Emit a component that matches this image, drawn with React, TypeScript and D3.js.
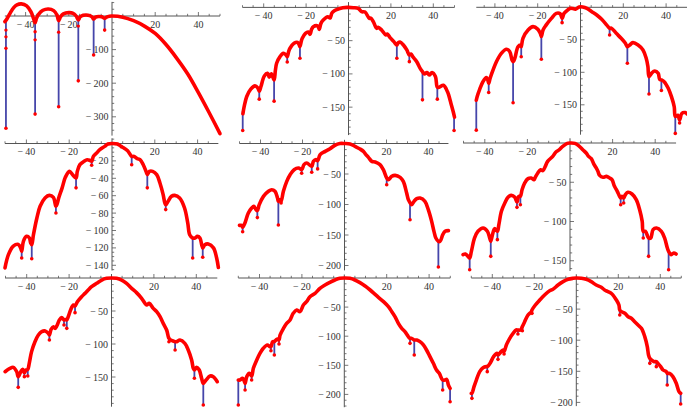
import React from "react";
import * as d3 from "d3";

type Pt = [number, number];
type Stem = [number, number, number];

const xTickValues = [-40, -20, 20, 40];
const yTicks1 = [-100, -200, -300];
const yTicks2 = [-50, -100, -150];
const yTicks3 = [-50, -100, -150];
const yTicks4 = [-20, -40, -60, -80, -100, -120, -140];
const yTicks5 = [-50, -100, -150, -200];
const yTicks6 = [-50, -100, -150];
const yTicks7 = [-50, -100, -150];
const yTicks8 = [-50, -100, -150, -200];
const yTicks9 = [-50, -100, -150, -200];

const curve1: Pt[] = [[-49.6,-17],[-48.6,-8],[-47.2,8],[-45.5,25],[-44,33],[-42,36],[-39.5,30],[-37.5,12],[-36.3,-8],[-35.6,-20],[-35,-8],[-34,5],[-32,17],[-29.5,21],[-27,16],[-25.5,3],[-24.7,-14],[-23.8,-2],[-22.5,6.5],[-20,10],[-18,8],[-16.6,0],[-15.6,-12],[-14.8,-3],[-13.3,2],[-12,3],[-10.3,1],[-9.2,-3],[-8.5,-9],[-7.6,-3.5],[-6.2,-1.5],[-4.7,-2.5],[-3.4,-7],[-2.5,-3],[-1.2,-0.5],[0,0],[5,-3.5],[10,-14],[15,-30],[20,-52],[25,-85],[30,-126],[35,-172],[40,-228],[45,-288],[50,-350]];
const stems1: Stem[] = [[-49.1,-15,-334],[-35.6,-20,-292],[-24.7,-14,-270],[-15.6,-12,-193],[-8.5,-9,-116],[-3.4,-7,-42]];
const dots1: Pt[] = [[-49.1,-42],[-49.1,-62],[-49.1,-96],[-35.6,-47],[-35.6,-71],[-24.7,-48],[-15.6,-30]];

const curve2: Pt[] = [[-49.8,-160],[-49.2,-149],[-48,-134],[-46.1,-123],[-44.1,-118],[-42.8,-121],[-42.1,-126],[-41.3,-119],[-39.7,-103],[-38.2,-99],[-37.4,-105],[-36.4,-100],[-35.1,-109],[-34.5,-95],[-33.9,-84],[-32.3,-74],[-30.7,-69],[-29.6,-71],[-28.9,-74],[-28.2,-66],[-27.6,-61.5],[-25.7,-54],[-24,-52.6],[-23.3,-56],[-22.9,-59],[-22.2,-50],[-21.8,-46.5],[-20.3,-39],[-19,-37],[-18.2,-40.5],[-17.4,-33],[-16.6,-29],[-14.5,-28],[-13.8,-33],[-13,-24],[-11.9,-19],[-9.8,-14],[-8.7,-16],[-7.9,-9],[-7.2,-6.4],[-5.6,-3.4],[-2.7,-0.4],[0,0],[2.3,-0.5],[4.6,-1.5],[6.2,-6.4],[7.8,-7],[9.8,-16.4],[10.5,-16],[11.7,-21.5],[13.3,-31.5],[14,-30],[15.6,-34],[17.6,-41.5],[18.3,-40],[19.5,-45],[21.4,-51.5],[22.8,-56.5],[23.5,-53],[24.3,-52],[25.9,-56.5],[27.5,-64],[28.7,-71.6],[29.5,-70],[30.3,-74],[32.2,-81.6],[33.8,-91.6],[34.9,-96.7],[35.8,-100],[37,-98],[38.1,-101.7],[39.4,-98],[41,-104],[41.9,-120],[42.8,-120],[44.8,-117],[46.7,-127],[48.3,-144],[49.4,-157],[50,-165]];
const stems2: Stem[] = [[-49.9,-156,-185],[-42.1,-125,-138],[-35.1,-109,-141],[-28.9,-73,-82],[-22.9,-59,-76.5],[22.8,-56.5,-76.5],[28.7,-71.6,-81.6],[34.9,-96.7,-139],[41.9,-120,-138],[49.8,-160,-185]];

const curve3: Pt[] = [[-48.7,-143],[-48.3,-137.5],[-47.2,-127],[-45.6,-114.5],[-44,-108],[-43.3,-112],[-42.9,-117],[-42.3,-110],[-41.7,-104],[-39.3,-83.7],[-37,-70.8],[-34.6,-64.6],[-33.1,-68],[-32,-81],[-31.5,-83.7],[-30.7,-78.5],[-29.2,-60.6],[-28,-58],[-27.7,-60.6],[-26.9,-47.7],[-24.5,-35],[-22.2,-29.8],[-19.9,-34],[-18.8,-40],[-18.3,-45],[-17.5,-34.8],[-16,-27],[-13.6,-17],[-11.3,-9.3],[-9.5,-10],[-8.6,-17],[-7.8,-10],[-7,-7],[-4.7,-1.6],[-3.5,-2],[-2.4,-3],[-0.6,0.5],[1,0.5],[3,-1.6],[5.3,-6.7],[7.6,-11.8],[9.9,-18.5],[12.2,-27],[13.6,-32.3],[14.4,-32],[16.7,-40],[19,-47.7],[20.9,-55],[21.9,-60.6],[23,-58],[24.5,-54.4],[26.9,-58],[29.2,-65.7],[30.7,-78.5],[31.5,-91],[32,-106.7],[33.2,-101.6],[34.7,-98],[36.3,-101.6],[37,-110.8],[37.8,-111.8],[39.1,-114.4],[41,-124.6],[42.5,-137.5],[43.8,-153],[44.3,-168],[45.5,-166],[46.3,-173],[47.4,-163],[48.9,-162],[49.8,-164]];
const stems3: Stem[] = [[-48.7,-143,-189],[-42.9,-117,-131],[-31.5,-83.7,-146.8],[-27.7,-60.6,-76],[-18.3,-45,-80],[-8.6,-17,-23.6],[13.6,-32.3,-42.6],[21.9,-60.6,-86],[32,-106.7,-133.4],[37.8,-111.8,-128],[44.3,-168,-194],[46.3,-173,-178]];

const curve4: Pt[] = [[-50,-143],[-48.4,-127.8],[-46.1,-118],[-43.8,-116],[-42.7,-120],[-42.2,-124],[-41.4,-112.4],[-39.9,-106.7],[-38.6,-108.6],[-38,-114.4],[-37.5,-116.3],[-36.7,-104.8],[-35.1,-85.6],[-33.6,-72.2],[-31.3,-62.6],[-29.3,-59.6],[-27.4,-61.9],[-26.2,-72.2],[-25.6,-69],[-24.9,-62.6],[-23.3,-51],[-21.8,-38.9],[-19.9,-32],[-18.4,-35.8],[-16.8,-39.7],[-16.2,-32],[-15,-24.3],[-13.1,-20.5],[-11.6,-18.6],[-10.3,-19.5],[-9.5,-20.5],[-8.7,-14.8],[-7.2,-11],[-5.7,-7.1],[-3.4,-3.3],[-1.9,-0.6],[0,0],[2.6,-0.6],[4.2,-3.3],[5.7,-5.5],[7.3,-8.3],[9.2,-14.8],[10.3,-14.8],[11.8,-17.5],[13.1,-18.6],[14.6,-24.4],[15.9,-32],[16.5,-35.8],[17.5,-32],[19,-32],[20.9,-35.8],[22.4,-45.4],[23.9,-58.8],[24.7,-68.4],[25.1,-70.3],[25.6,-69],[26.2,-66.5],[27.8,-60.7],[29.3,-59.6],[31.6,-62.6],[33.9,-74.1],[35.4,-91.4],[36.3,-104.8],[37.7,-108.6],[38.8,-108.6],[39.9,-106.7],[41.1,-108.6],[41.9,-116.3],[42.4,-120],[43.4,-116.3],[45,-115.5],[47.4,-120],[48.9,-131.6],[49.7,-142.5]];
const stems4: Stem[] = [[-42.2,-124,-131.6],[-37.5,-116.3,-132.4],[-26.2,-72.2,-79.9],[-16.8,-39.7,-51],[-9.5,-20.5,-25],[9.2,-14.8,-24.4],[16.5,-35.8,-51],[25.1,-70.3,-76],[37.7,-108.6,-131.6],[42.4,-120,-130.8]];

const curve5: Pt[] = [[-50,-134.2],[-48.9,-134.2],[-48.5,-137.4],[-47.4,-130.3],[-45.8,-114],[-44.2,-105.8],[-43.2,-103],[-42.1,-108.5],[-41.5,-110],[-40.6,-100.3],[-38.6,-86.6],[-36.2,-78.4],[-34.7,-75.7],[-33.1,-78.4],[-31.9,-89.4],[-31.5,-94.8],[-30.7,-92.1],[-30.2,-95],[-29.1,-78.4],[-27.5,-62],[-25.9,-51.1],[-24,-42.9],[-21.9,-40.2],[-20.4,-42.9],[-19.3,-34.7],[-18,-32],[-15.6,-37.4],[-14.8,-29.3],[-13.6,-26.5],[-12.8,-28.2],[-11.6,-18.3],[-9.2,-12.9],[-6.9,-8.5],[-4.6,-3],[-2.2,0],[0,0],[2.7,-0.8],[5,-4.7],[7.4,-9],[9,-12.9],[10.2,-18.3],[11.4,-22.7],[13,-29.3],[14.6,-30.3],[16.9,-34.7],[18.5,-42.9],[20.1,-56.6],[20.9,-59.3],[22.5,-53.8],[24.1,-52.2],[26.5,-55.5],[28,-62],[29.6,-81.2],[30.4,-92.1],[31.2,-97],[32,-100.3],[33.1,-94.8],[34.4,-90.5],[36,-89.4],[38.3,-94.8],[39.9,-108.5],[41.5,-127.6],[42.6,-144],[43.5,-155],[44.7,-160.4],[45.5,-160.4],[46.8,-149.5],[47.9,-144],[49.5,-142.9]];
const stems5: Stem[] = [[-48.5,-137.4,-144.6],[-41.5,-110,-121.5],[-31.5,-94.8,-133.6],[-30.2,-95,-97.6],[-20.4,-42.9,-48.8],[-15.6,-37.4,-47.1],[-12.8,-28.2,-41.6],[20.1,-56.6,-67.5],[31.2,-97,-124.9],[44.7,-160.4,-202.5]];

const curve6: Pt[] = [[-50.2,-142.2],[-49.1,-141.4],[-47.9,-144.4],[-47.1,-146.5],[-46.3,-138],[-44.8,-121],[-43.2,-112.5],[-40.8,-108.3],[-38.8,-112.5],[-37.7,-121],[-37.2,-125.3],[-36.4,-116.8],[-35.4,-109.1],[-34.1,-112.5],[-33.4,-104],[-32.2,-87],[-30.6,-76.4],[-29.1,-69.2],[-27.5,-66.7],[-25.9,-69.2],[-24.9,-75.2],[-24.1,-68],[-23.3,-68],[-22.5,-59.5],[-21.3,-51],[-19.7,-45.4],[-18.2,-44.6],[-16.9,-46.7],[-16.3,-43.7],[-15.1,-38.2],[-13.8,-34],[-12.7,-35.2],[-11.6,-29.7],[-10.5,-23.4],[-8.1,-17],[-6.6,-11.5],[-5,-8.5],[-3.4,-4.2],[-1.3,-0.5],[0,0],[2.3,-0.5],[4.4,-4.2],[6,-8.5],[7.6,-12.7],[8.7,-17],[10,-20],[11.2,-26.8],[12.3,-31.8],[13.1,-36.1],[13.9,-41.2],[15.5,-43.7],[17.1,-42.5],[18.6,-44.6],[19.7,-46.7],[20.9,-55.2],[22.2,-61.6],[23.3,-68],[23.8,-70],[24.4,-68],[25.2,-70],[26,-65.8],[27.2,-62.8],[29.1,-65],[31.1,-72.2],[32.7,-85],[33.9,-99.8],[34.4,-112.5],[35.4,-112.5],[36.9,-121],[37.9,-121],[39,-110.4],[40.6,-108.3],[42.9,-112.5],[44.4,-121],[45.7,-133.8],[46.3,-138],[47.5,-142.2],[48.7,-140.1],[49.8,-141.4]];
const stems6: Stem[] = [[-47.1,-146.5,-161.4],[-37.2,-125.3,-144.4],[-34.1,-112.5,-123.1],[-24.9,-75.2,-82],[-23.3,-68,-78.6],[23.8,-70,-78.6],[25.2,-70,-76.4],[34.4,-112.5,-121],[36.9,-121,-144.4],[46.3,-138,-161.4]];

const curve7: Pt[] = [[-50.2,-142],[-47.9,-136.9],[-46.3,-135.4],[-44.7,-142],[-44,-149.5],[-42.8,-142],[-41.9,-138.4],[-41.1,-143.5],[-40.3,-139.4],[-39.5,-138.4],[-38.8,-129.3],[-37.7,-111.6],[-36.1,-96.5],[-34.5,-86.4],[-32.9,-81.3],[-31.3,-80.3],[-29.8,-83.9],[-29.3,-86.4],[-28.5,-77.8],[-27.4,-73.8],[-26.6,-76.3],[-25.8,-72.7],[-24.6,-63.7],[-23.5,-60.1],[-22.7,-62.6],[-22.4,-63.7],[-21.4,-62.6],[-21.1,-63.7],[-20.4,-58.6],[-19.3,-48.5],[-18,-40.9],[-17.2,-42.4],[-16.1,-35.9],[-14.1,-28.3],[-12.5,-23.3],[-11,-18.2],[-9.4,-13.2],[-7,-8.1],[-4.6,-3.1],[-2.3,-0.5],[0,0],[2.4,-0.5],[4.8,-3.1],[7.1,-8.1],[9.5,-15.7],[11.8,-22.2],[14.2,-30.8],[15.8,-38.4],[16.6,-40.9],[17.8,-38.4],[19.7,-46],[21.3,-51],[22.9,-58.6],[24.4,-68.7],[26,-78.8],[26.8,-88.9],[27.1,-91.4],[27.9,-94],[28.8,-95],[30,-96.5],[30.7,-96.5],[32.3,-94],[34.6,-99],[36.2,-109.1],[37.8,-124.3],[38.6,-136.9],[39.1,-139.4],[40.2,-135.4],[41.4,-139.4],[42.5,-152],[43.3,-159.6],[44.6,-154.6],[46.5,-148.5],[48,-149.5],[49.9,-157.1]];
const stems7: Stem[] = [[-44,-149.5,-165.7],[-41.1,-143.5,-149.5],[-39.5,-138.4,-148.5],[-29.3,-86.4,-94],[-22.4,-63.7,-71.2],[-21.1,-63.7,-76.3],[-17.2,-42.4,-52.5],[27.1,-91.4,-96.5],[30,-96.5,-109.1],[39.1,-139.4,-152],[43.3,-159.6,-192.4]];

const curve8: Pt[] = [[-50,-175.3],[-49.2,-175.3],[-48,-172.4],[-47.1,-178.1],[-46.8,-181],[-46,-169.5],[-44.8,-163.8],[-43.7,-168.4],[-42.9,-155.2],[-41.3,-140.9],[-39.8,-129.4],[-38.2,-120.8],[-36.3,-115.1],[-35.1,-118],[-34.6,-118],[-33.8,-109.4],[-33,-109.4],[-32.2,-106.5],[-31.5,-105],[-30.8,-106.5],[-30.3,-98],[-28.7,-86.5],[-27.2,-77.9],[-25.6,-72.2],[-24.1,-60.7],[-22.5,-55],[-20.9,-57.8],[-19.3,-46.4],[-17.8,-40.7],[-16.2,-32.1],[-13.8,-26.3],[-11.5,-17.7],[-9.1,-12],[-6.8,-7.4],[-4.4,-3.4],[-2.1,-0.6],[0,0],[2.7,-0.6],[5,-3.4],[7.4,-8],[9.8,-13.7],[12.2,-20.6],[14,-26.3],[16.1,-33.2],[18.5,-40.7],[20.8,-49.3],[22.4,-57.8],[23.9,-66.4],[25.5,-77.9],[27.1,-86.5],[28.6,-92.2],[30.2,-100.8],[31,-103.7],[31.8,-103.7],[33,-106.5],[34.2,-106.5],[35.7,-109.4],[37.3,-115.1],[38.8,-123.7],[40.4,-135.2],[42,-146.6],[43.5,-158.1],[44.8,-163.8],[46.4,-175.3],[47.5,-175.3],[48.3,-174.1],[49.1,-183.8],[49.9,-189.6]];
const stems8: Stem[] = [[-50,-175.3,-218.2],[-46.8,-181,-192.4],[-43.7,-168.4,-175.3],[-34.6,-118,-124.9],[-33,-109.4,-132.3],[-30.8,-106.5,-113.4],[31,-103.7,-112.3],[33,-106.5,-132.3],[46.4,-175.3,-192.4],[49.9,-189.6,-212.5]];

const curve9: Pt[] = [[-50,-185.4],[-49.7,-185.4],[-48.7,-174.7],[-47.6,-164],[-46,-150.6],[-44.4,-144.2],[-42.8,-142.5],[-42.4,-142.5],[-40.9,-136.1],[-39.4,-126.5],[-37.8,-121.1],[-37.3,-123.8],[-35.8,-118.4],[-34.9,-115.8],[-34.4,-118.4],[-33.3,-107.7],[-31.7,-97],[-30.1,-89],[-28.6,-83.6],[-27.8,-83.6],[-26.5,-83.6],[-25.7,-78.2],[-24.6,-70.2],[-23,-59.5],[-21.4,-54.1],[-21.1,-51.4],[-19.5,-43.4],[-17.4,-35.4],[-15.1,-27.3],[-12.7,-20.4],[-11.1,-18.2],[-8.7,-11.3],[-6.3,-5.9],[-3.9,-2.1],[-1.6,-0.5],[0,0],[2.4,-0.5],[4.7,-2.1],[7.1,-5.9],[9.5,-11.3],[11.9,-15],[13.5,-19.3],[15.1,-22],[17,-25.7],[19.1,-35.4],[20.3,-43.4],[20.7,-51.4],[21.5,-54.1],[23.1,-56.8],[24.7,-62.2],[26.2,-64.8],[27.8,-70.2],[29.4,-75.6],[31,-80.9],[32.6,-94.3],[33.8,-110.4],[34.4,-123.8],[35,-129.2],[35.8,-131.8],[37.1,-134.5],[38.1,-134.5],[38.9,-137.2],[40.2,-142.5],[41.3,-147.9],[42.9,-150.6],[43.3,-153.3],[44.4,-153.3],[46,-158.6],[47.6,-169.3],[48.9,-182.7],[49.7,-185.4]];
const stems9: Stem[] = [[-49.7,-185.4,-193.5],[-42.4,-142.5,-150.6],[-37.3,-123.8,-130.8],[-34.4,-118.4,-122.2],[-27.8,-83.6,-90],[-25.7,-78.2,-84.7],[-21.1,-51.4,-56.8],[20.7,-51.4,-59.5],[35,-129.2,-137.2],[38.1,-134.5,-142.5],[43.3,-153.3,-172],[49.7,-185.4,-202.6]];

// layout: pixel origin and scale of each panel
const LAYOUT = [
  { x0: 112, kx: 2.16, y0: 16, ky: 0.336, xMin: -49.6, xMax: 50, yTop: 42, yBottom: -356, minor: 20 },
  { x0: 348.5, kx: 2.12, y0: 7.4, ky: 0.665, xMin: -50, xMax: 50, yTop: 8, yBottom: -192, minor: 10 },
  { x0: 580.5, kx: 2.14, y0: 7.3, ky: 0.65, xMin: -48.7, xMax: 49.8, yTop: 8, yBottom: -196, minor: 10 },
  { x0: 112, kx: 2.14, y0: 143.5, ky: 0.87, xMin: -50, xMax: 49.7, yTop: 6, yBottom: -146, minor: 5 },
  { x0: 344.5, kx: 2.1, y0: 143.5, ky: 0.61, xMin: -50, xMax: 49.5, yTop: 6, yBottom: -208, minor: 10 },
  { x0: 570, kx: 2.13, y0: 143, ky: 0.785, xMin: -50.2, xMax: 49.8, yTop: 6, yBottom: -163, minor: 10 },
  { x0: 111.5, kx: 2.12, y0: 278, ky: 0.66, xMin: -50.2, xMax: 49.9, yTop: 6, yBottom: -195, minor: 10 },
  { x0: 344.3, kx: 2.12, y0: 278, ky: 0.582, xMin: -50, xMax: 50, yTop: 6, yBottom: -222, minor: 10 },
  { x0: 576.3, kx: 2.1, y0: 278, ky: 0.622, xMin: -50, xMax: 50, yTop: 6, yBottom: -206, minor: 10 },
];

const PANELS = [
  { curve: curve1, stems: stems1, dots: dots1, yTicks: yTicks1 },
  { curve: curve2, stems: stems2, dots: [] as Pt[], yTicks: yTicks2 },
  { curve: curve3, stems: stems3, dots: [] as Pt[], yTicks: yTicks3 },
  { curve: curve4, stems: stems4, dots: [] as Pt[], yTicks: yTicks4 },
  { curve: curve5, stems: stems5, dots: [] as Pt[], yTicks: yTicks5 },
  { curve: curve6, stems: stems6, dots: [] as Pt[], yTicks: yTicks6 },
  { curve: curve7, stems: stems7, dots: [] as Pt[], yTicks: yTicks7 },
  { curve: curve8, stems: stems8, dots: [] as Pt[], yTicks: yTicks8 },
  { curve: curve9, stems: stems9, dots: [] as Pt[], yTicks: yTicks9 },
];

const RED = "#f00";
const BLUE = "#4646aa";
const AXIS = "#555";
const TEXT = "#333";
const FONT = "'Liberation Serif', 'DejaVu Serif', serif";

const fmt = (v: number) => (v < 0 ? "\u2212\u2009" + Math.abs(v) : String(v));

function Panel({ layout, panel }: { layout: typeof LAYOUT[number]; panel: typeof PANELS[number] }) {
  const x = d3.scaleLinear().domain([0, 50]).range([layout.x0, layout.x0 + 50 * layout.kx]);
  const y = d3.scaleLinear().domain([0, -100]).range([layout.y0, layout.y0 + 100 * layout.ky]);
  const line = d3
    .line<Pt>()
    .x((d) => x(d[0]))
    .y((d) => y(d[1]))
    .curve(d3.curveCatmullRom.alpha(0.5));

  const xMinor = d3.range(-50, 50.001, 5).filter((v) => v >= layout.xMin - 0.01 && v <= layout.xMax + 0.01 && v !== 0);
  const majorStepY = panel.yTicks[0] - panel.yTicks[1];
  const yMinor = d3
    .range(Math.ceil(layout.yBottom / layout.minor) * layout.minor, layout.yTop + 0.001, layout.minor)
    .filter((v) => v !== 0);

  return (
    <g>
      <line x1={x(layout.xMin)} x2={x(layout.xMax)} y1={y(0)} y2={y(0)} stroke={AXIS} strokeWidth={1} />
      <line x1={x(0)} x2={x(0)} y1={y(layout.yTop)} y2={y(layout.yBottom)} stroke={AXIS} strokeWidth={1} />
      {xMinor.map((v) => {
        const major = xTickValues.includes(v);
        return (
          <line key={"xt" + v} x1={x(v)} x2={x(v)} y1={y(0)} y2={y(0) - (major ? 4 : 2.2)} stroke={AXIS} strokeWidth={0.8} />
        );
      })}
      {yMinor.map((v) => {
        const major = Math.abs(v % majorStepY) < 0.001;
        return (
          <line key={"yt" + v} x1={x(0)} x2={x(0) + (major ? 4 : 2.2)} y1={y(v)} y2={y(v)} stroke={AXIS} strokeWidth={0.8} />
        );
      })}
      {xTickValues.map((v) => (
        <text key={"xl" + v} x={x(v)} y={y(0) + 11.5} textAnchor="middle" fontSize={10} fontFamily={FONT} fill={TEXT}>
          {fmt(v)}
        </text>
      ))}
      {panel.yTicks.map((v) => (
        <text key={"yl" + v} x={x(0) - 3.5} y={y(v) + 3.5} textAnchor="end" fontSize={10} fontFamily={FONT} fill={TEXT}>
          {fmt(v)}
        </text>
      ))}
      {panel.stems.map((s, i) => (
        <line key={"s" + i} x1={x(s[0])} x2={x(s[0])} y1={y(s[1])} y2={y(s[2])} stroke={BLUE} strokeWidth={1.8} />
      ))}
      <path d={line(panel.curve) || ""} fill="none" stroke={RED} strokeWidth={3.6} strokeLinejoin="round" strokeLinecap="round" />
      {panel.stems.map((s, i) => (
        <circle key={"b" + i} cx={x(s[0])} cy={y(s[2])} r={1.8} fill={RED} />
      ))}
      {panel.dots.map((p, i) => (
        <circle key={"d" + i} cx={x(p[0])} cy={y(p[1])} r={1.7} fill={RED} />
      ))}
    </g>
  );
}

export default function App() {
  return (
    <svg
      width={687}
      height={408}
      viewBox="0 0 687 408"
      style={{ position: "absolute", left: 0, top: 0, background: "#fff" }}
    >
      {PANELS.map((p, i) => (
        <Panel key={i} layout={LAYOUT[i]} panel={p} />
      ))}
    </svg>
  );
}
